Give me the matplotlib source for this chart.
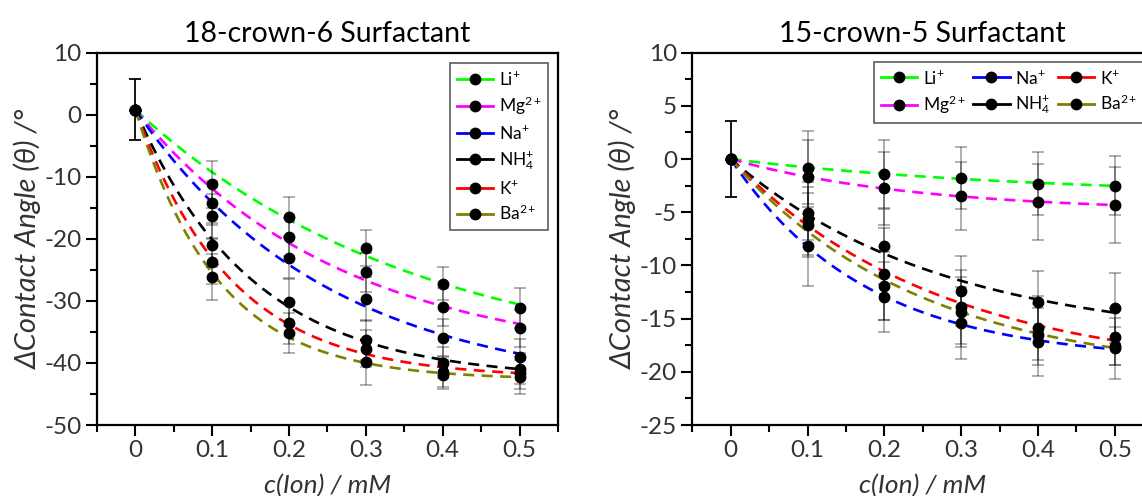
import numpy as np
import matplotlib
matplotlib.use("Agg")
import matplotlib.pyplot as plt
from matplotlib.lines import Line2D
from matplotlib.ticker import MultipleLocator

plt.rcParams['font.family'] = ['Lato', 'DejaVu Sans']
plt.rcParams['mathtext.fontset'] = 'custom'
plt.rcParams['mathtext.rm'] = 'Lato'
plt.rcParams['mathtext.it'] = 'Lato:italic'
plt.rcParams['mathtext.bf'] = 'Lato:bold'
plt.rcParams['axes.unicode_minus'] = False

# ---------------- data ----------------
conc = [0.0, 0.1, 0.2, 0.3, 0.4, 0.5]
conc_labels = ['0', '0.1', '0.2', '0.3', '0.4', '0.5']
ions = ['Li', 'Mg', 'Na', 'NH4', 'K', 'Ba']
ion_labels = [r'Li$^{\mathrm{+}}$', r'Mg$^{\mathrm{2+}}$', r'Na$^{\mathrm{+}}$',
              r'NH$_{\mathrm{4}}^{\mathrm{+}}$', r'K$^{\mathrm{+}}$', r'Ba$^{\mathrm{2+}}$']

# 18-crown-6 surfactant
c18_Li = [0.8, -11.2, -16.4, -21.5, -27.2, -31.2]
c18_Mg = [0.8, -14.2, -19.7, -25.4, -31.0, -34.4]
c18_Na = [0.8, -16.3, -23.1, -29.7, -35.9, -39.0]
c18_NH4 = [0.8, -21.0, -30.2, -36.3, -40.0, -40.9]
c18_K = [0.8, -23.7, -33.6, -37.7, -41.4, -41.6]
c18_Ba = [0.8, -26.2, -35.2, -39.9, -41.9, -42.3]

c18_Li_err = [4.9, 3.8, 3.1, 2.9, 2.7, 3.2]
c18_Mg_err = [4.9, 3.5, 3.0, 3.2, 3.0, 3.0]
c18_Na_err = [4.9, 3.6, 3.2, 3.5, 3.0, 2.8]
c18_NH4_err = [4.9, 3.5, 3.8, 3.2, 2.5, 2.5]
c18_K_err = [4.9, 3.6, 3.3, 3.0, 2.4, 2.6]
c18_Ba_err = [4.9, 3.7, 3.2, 3.7, 2.3, 2.7]

# 15-crown-5 surfactant
c15_Li = [0.0, -0.8, -1.4, -1.8, -2.3, -2.5]
c15_Mg = [0.0, -1.7, -2.75, -3.5, -4.05, -4.3]
c15_Na = [0.0, -8.2, -13.0, -15.4, -17.2, -17.8]
c15_NH4 = [0.0, -5.1, -8.2, -12.4, -13.4, -14.0]
c15_K = [0.0, -5.6, -10.8, -13.9, -15.85, -16.7]
c15_Ba = [0.0, -6.2, -11.9, -14.35, -16.5, -17.6]

c15_Li_err = [3.6, 3.45, 3.2, 2.9, 3.0, 2.8]
c15_Mg_err = [3.6, 3.5, 3.45, 3.2, 3.55, 3.6]
c15_Na_err = [3.6, 3.7, 3.3, 3.4, 3.2, 2.9]
c15_NH4_err = [3.6, 2.5, 3.5, 3.3, 2.9, 3.3]
c15_K_err = [3.6, 3.4, 4.3, 3.5, 3.0, 2.7]
c15_Ba_err = [3.6, 3.0, 3.2, 3.3, 2.9, 1.8]

colors = ['#00ff00', '#ff00ff', '#0000ff', '#000000', '#ff0000', '#808000']

data18 = [c18_Li, c18_Mg, c18_Na, c18_NH4, c18_K, c18_Ba]
err18 = [c18_Li_err, c18_Mg_err, c18_Na_err, c18_NH4_err, c18_K_err, c18_Ba_err]
data15 = [c15_Li, c15_Mg, c15_Na, c15_NH4, c15_K, c15_Ba]
err15 = [c15_Li_err, c15_Mg_err, c15_Na_err, c15_NH4_err, c15_K_err, c15_Ba_err]


def exp_fit(x, y):
    """Exponential decay fit anchored at the first data point."""
    x = np.asarray(x, float)
    y = np.asarray(y, float)
    y0 = y[0]
    best = None
    for t in np.linspace(0.02, 8.0, 2000):
        g = 1.0 - np.exp(-x / t)
        A = np.dot(g, y - y0) / np.dot(g, g)
        r = np.sum((y0 + A * g - y) ** 2)
        if best is None or r < best[0]:
            best = (r, t, A)
    _, t, A = best
    xf = np.linspace(x.min(), x.max(), 200)
    return xf, y0 + A * (1.0 - np.exp(-xf / t))


fig = plt.figure(figsize=(11.42, 4.96), dpi=100)
ax1 = fig.add_axes([0.0849, 0.1431, 0.4037, 0.7507])
ax2 = fig.add_axes([0.6062, 0.1431, 0.4037, 0.7507])

label_color = '#333333'


def draw(ax, data, errs, title, ylim, major, minor, legend_kw):
    for y, e, c in zip(data, errs, colors):
        xf, yf = exp_fit(conc, y)
        ax.plot(xf, yf, color=c, lw=1.9, dashes=(4.2, 2.8), zorder=2)
        ax.errorbar(conc, y, yerr=e, fmt='none', ecolor='black', elinewidth=1.1,
                    capsize=4, capthick=1.1, alpha=0.4, zorder=3)
        ax.plot(conc, y, 'o', color='black', ms=7.5, zorder=4)
    ax.set_xlim(-0.05, 0.55)
    ax.set_ylim(*ylim)
    ax.set_xticks(conc)
    ax.set_xticklabels(conc_labels)
    ax.xaxis.set_minor_locator(MultipleLocator(0.05))
    ax.yaxis.set_major_locator(MultipleLocator(major))
    ax.yaxis.set_minor_locator(MultipleLocator(minor))
    ax.tick_params(which='major', direction='out', length=8, width=1.5,
                   labelsize=17.5, labelcolor=label_color, pad=3)
    ax.tick_params(which='minor', direction='out', length=5, width=1.5)
    ax.tick_params(top=False, right=False, which='both')
    for s in ax.spines.values():
        s.set_linewidth(1.6)
    ax.set_title(title, fontsize=20.5, pad=8)
    ax.set_xlabel('c(Ion) / mM', fontsize=19, fontstyle='italic',
                  color=label_color, labelpad=9)
    ax.set_ylabel('ΔContact Angle (θ) /°', fontsize=21, fontstyle='italic',
                  color=label_color, labelpad=2)
    handles = [Line2D([], [], color=c, lw=2.0, marker='o', markerfacecolor='black',
                      markeredgecolor='black', ms=7.5) for c in colors]
    leg = ax.legend(handles, ion_labels, fontsize=12.5, frameon=True, fancybox=False,
                    borderaxespad=0, handlelength=2.1, handletextpad=0.3,
                    labelspacing=0.4, borderpad=0.4, **legend_kw)
    leg.get_frame().set_edgecolor('#333333')
    leg.get_frame().set_linewidth(1.2)
    leg.set_zorder(5)


draw(ax1, data18, err18, '18-crown-6 Surfactant', (-50, 10), 10, 5,
     dict(loc='upper right', bbox_to_anchor=(0.979, 0.973), ncol=1))
draw(ax2, data15, err15, '15-crown-5 Surfactant', (-25, 10), 5, 2.5,
     dict(loc='upper left', bbox_to_anchor=(0.394, 0.976), ncol=3, columnspacing=0.45))

fig.savefig('out.png', dpi=100)
